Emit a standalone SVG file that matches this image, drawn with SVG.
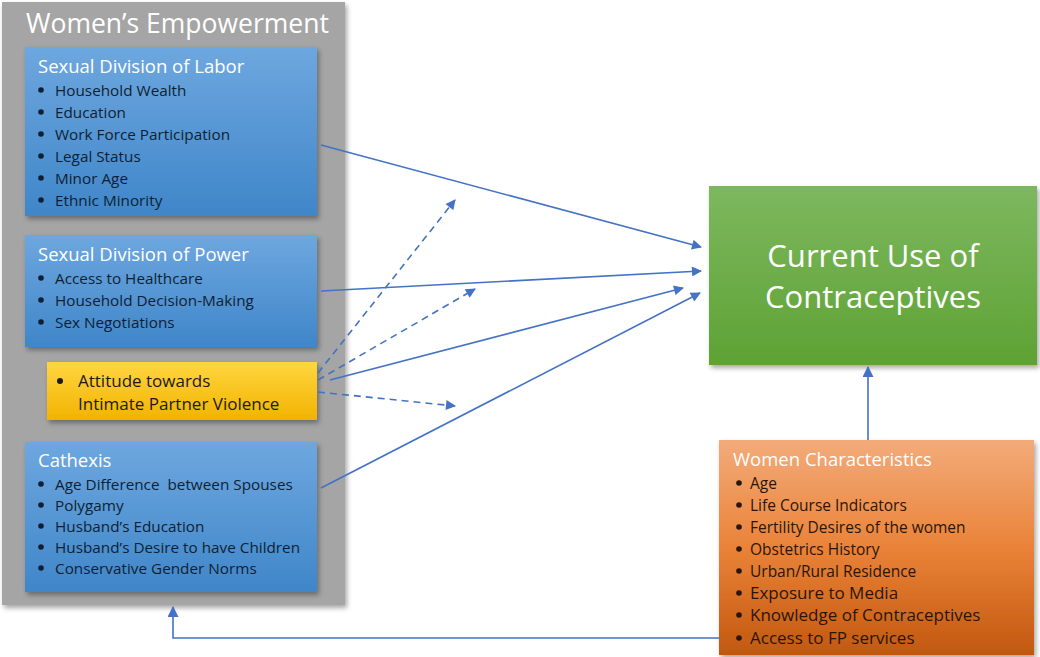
<svg xmlns="http://www.w3.org/2000/svg" width="1040" height="657" viewBox="0 0 1040 657">
<style>
.ttl{font-family:"Open Sans","Noto Sans",sans-serif;fill:#ffffff;}
.it{font-family:"Open Sans","Noto Sans",sans-serif;font-size:15.3px;fill:#0f1f33;}
.ito{font-family:"Open Sans","Noto Sans",sans-serif;font-size:15.5px;fill:#2a1608;}
.bul{fill:#0f1f33;}
.conn{stroke:#4472C4;stroke-width:1.6;fill:none;marker-end:url(#ah);}
.dash{stroke-dasharray:7 5;}
</style>
<defs>
<marker id="ah" viewBox="0 0 10 10" refX="9" refY="5" markerWidth="11" markerHeight="10" markerUnits="userSpaceOnUse" orient="auto"><path d="M0,0 L10,5 L0,10 z" fill="#4472C4"/></marker>
<marker id="ah2" viewBox="0 0 10 10" refX="9" refY="5" markerWidth="11" markerHeight="11" markerUnits="userSpaceOnUse" orient="auto"><path d="M0,0 L10,5 L0,10 z" fill="#4472C4"/></marker>
<linearGradient id="gBlue" x1="0" y1="0" x2="0" y2="1"><stop offset="0" stop-color="#6ea7df"/><stop offset="1" stop-color="#3f86c9"/></linearGradient>
<linearGradient id="gGreen" x1="0" y1="0" x2="0" y2="1"><stop offset="0" stop-color="#7db85f"/><stop offset="1" stop-color="#5ea234"/></linearGradient>
<linearGradient id="gOrange" x1="0" y1="0" x2="0" y2="1"><stop offset="0" stop-color="#f3ab7a"/><stop offset="0.5" stop-color="#ea8339"/><stop offset="1" stop-color="#c2580f"/></linearGradient>
<linearGradient id="gYellow" x1="0" y1="0" x2="0" y2="1"><stop offset="0" stop-color="#ffd640"/><stop offset="1" stop-color="#f2b300"/></linearGradient>
<filter id="sh" x="-10%" y="-10%" width="125%" height="125%"><feDropShadow dx="2" dy="3" stdDeviation="2.5" flood-color="#000" flood-opacity="0.35"/></filter>
</defs>

<g id="womens-empowerment">
<rect x="2" y="2" width="343" height="603" fill="#a5a5a5" filter="url(#sh)"/>
<text class="ttl" x="26" y="33" font-size="26.5">Women’s Empowerment</text>
</g>

<g id="sexual-division-labor">
<rect x="25" y="47" width="292" height="169" fill="url(#gBlue)" filter="url(#sh)"/>
<text class="ttl" x="38" y="73" font-size="18.5">Sexual Division of Labor</text>
<g class="bul"><circle cx="41" cy="90" r="2.8"/><circle cx="41" cy="112" r="2.8"/><circle cx="41" cy="134" r="2.8"/><circle cx="41" cy="156" r="2.8"/><circle cx="41" cy="178" r="2.8"/><circle cx="41" cy="200" r="2.8"/></g>
<text class="it" x="55" y="96">Household Wealth</text>
<text class="it" x="55" y="118">Education</text>
<text class="it" x="55" y="140">Work Force Participation</text>
<text class="it" x="55" y="162">Legal Status</text>
<text class="it" x="55" y="184">Minor Age</text>
<text class="it" x="55" y="206">Ethnic Minority</text>
</g>

<g id="sexual-division-power">
<rect x="25" y="235" width="292" height="112" fill="url(#gBlue)" filter="url(#sh)"/>
<text class="ttl" x="38" y="261" font-size="18.5">Sexual Division of Power</text>
<g class="bul"><circle cx="41" cy="278" r="2.8"/><circle cx="41" cy="300" r="2.8"/><circle cx="41" cy="322" r="2.8"/></g>
<text class="it" x="55" y="284">Access to Healthcare</text>
<text class="it" x="55" y="306">Household Decision-Making</text>
<text class="it" x="55" y="328">Sex Negotiations</text>
</g>

<g id="attitude-ipv">
<rect x="47" y="362" width="270" height="58" fill="url(#gYellow)" filter="url(#sh)"/>
<circle cx="60" cy="381" r="3" fill="#1a1a1a"/>
<text class="it" x="78" y="387" style="font-size:17px;fill:#1a1a1a">Attitude towards</text>
<text class="it" x="78" y="410" style="font-size:17px;fill:#1a1a1a">Intimate Partner Violence</text>
</g>

<g id="cathexis">
<rect x="25" y="442" width="292" height="150" fill="url(#gBlue)" filter="url(#sh)"/>
<text class="ttl" x="38" y="467" font-size="18.5">Cathexis</text>
<g class="bul"><circle cx="41" cy="484" r="2.8"/><circle cx="41" cy="505" r="2.8"/><circle cx="41" cy="526" r="2.8"/><circle cx="41" cy="547" r="2.8"/><circle cx="41" cy="568" r="2.8"/></g>
<text class="it" x="55" y="490" xml:space="preserve">Age Difference  between Spouses</text>
<text class="it" x="55" y="511">Polygamy</text>
<text class="it" x="55" y="532">Husband’s Education</text>
<text class="it" x="55" y="553">Husband’s Desire to have Children</text>
<text class="it" x="55" y="574">Conservative Gender Norms</text>
</g>

<g id="current-use">
<rect x="709" y="186" width="328" height="179" fill="url(#gGreen)" filter="url(#sh)"/>
<text class="ttl" x="873" y="267" font-size="31" text-anchor="middle">Current Use of</text>
<text class="ttl" x="873" y="308" font-size="31" text-anchor="middle">Contraceptives</text>
</g>

<g id="women-characteristics">
<rect x="719" y="440" width="315" height="215" fill="url(#gOrange)" filter="url(#sh)"/>
<text class="ttl" x="733" y="466" font-size="18.5">Women Characteristics</text>
<g fill="#2a1608"><circle cx="739" cy="483" r="2.8"/><circle cx="739" cy="505" r="2.8"/><circle cx="739" cy="527" r="2.8"/><circle cx="739" cy="549" r="2.8"/><circle cx="739" cy="571" r="2.8"/><circle cx="739" cy="593" r="2.8"/><circle cx="739" cy="615" r="2.8"/><circle cx="739" cy="638" r="2.8"/></g>
<text class="ito" x="750" y="489">Age</text>
<text class="ito" x="750" y="511">Life Course Indicators</text>
<text class="ito" x="750" y="533">Fertility Desires of the women</text>
<text class="ito" x="750" y="555">Obstetrics History</text>
<text class="ito" x="750" y="577">Urban/Rural Residence</text>
<text class="ito" x="750" y="599" style="font-size:17px">Exposure to Media</text>
<text class="ito" x="750" y="621" style="font-size:17px">Knowledge of Contraceptives</text>
<text class="ito" x="750" y="644" style="font-size:17px">Access to FP services</text>
</g>

<g id="connectors">
<line class="conn" x1="321" y1="145" x2="701" y2="247"/>
<line class="conn" x1="321" y1="291" x2="701" y2="271"/>
<line class="conn" x1="330" y1="380" x2="683" y2="288"/>
<line class="conn" x1="321" y1="488" x2="700" y2="293"/>
<line class="conn dash" x1="318" y1="373" x2="455" y2="200"/>
<line class="conn dash" x1="318" y1="380" x2="475" y2="289"/>
<line class="conn dash" x1="318" y1="392" x2="455" y2="406"/>
<line class="conn" x1="868" y1="440" x2="868" y2="367" style="marker-end:url(#ah2)"/>
<polyline class="conn" points="719,638 173,638 173,607" style="marker-end:url(#ah2)"/>
</g>
</svg>
